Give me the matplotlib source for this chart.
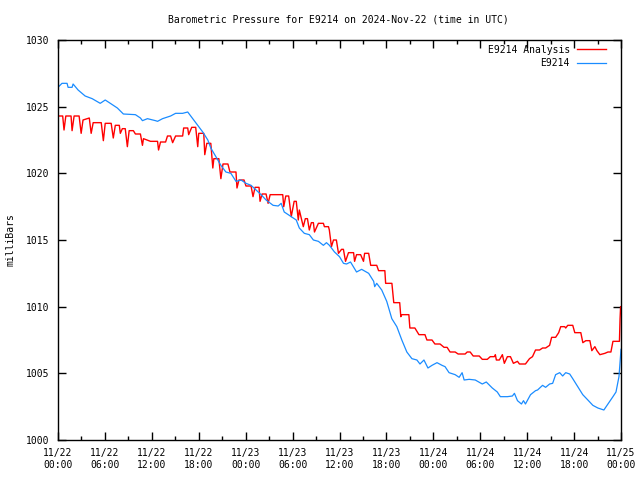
import matplotlib
matplotlib.use("Agg")
import matplotlib.pyplot as plt
from matplotlib.ticker import MultipleLocator

plt.rcParams['font.family'] = ['DejaVu Sans Mono']
plt.rcParams['font.size'] = 7

### Data (hours since 2024-11-22 00:00 UTC, millibars)
analysis_hours = [0.0, 0.6, 0.77, 1.0, 1.67, 1.8, 2.06, 2.7, 2.96, 3.2, 4.0, 4.24, 4.5, 5.53, 5.8,
                  6.04, 6.8, 7.07, 7.33, 7.84, 7.97, 8.23, 8.6, 8.87, 9.1, 9.64, 9.9, 10.54, 10.8,
                  10.93, 11.83, 12.73, 12.86, 13.11, 13.76, 14.0, 14.4, 14.66, 15.04, 15.94, 16.07,
                  16.59, 16.71, 17.1, 17.61, 17.87, 18.0, 18.64, 18.77, 19.03, 19.54, 19.8, 19.93,
                  20.57, 20.83, 21.1, 21.73, 21.99, 22.76, 22.89, 23.14, 23.79, 24.04, 24.69, 24.94,
                  25.2, 25.71, 25.84, 26.1, 26.61, 26.87, 27.13, 28.74, 28.87, 29.13, 29.5, 29.83,
                  30.2, 30.47, 30.73, 30.86, 31.37, 31.63, 31.9, 32.14, 32.4, 32.66, 32.8, 33.3,
                  33.94, 34.07, 34.59, 34.7, 34.97, 35.23, 35.6, 35.87, 36.26, 36.5, 36.77, 37.15,
                  37.8, 37.93, 38.18, 38.7, 39.07, 39.21, 39.73, 39.99, 40.76, 41.0, 41.8, 41.9,
                  42.7, 42.94, 43.7, 43.84, 43.97, 44.87, 45.0, 45.64, 46.16, 46.93, 47.18, 47.83,
                  48.2, 48.86, 49.37, 49.76, 50.14, 50.79, 51.17, 52.07, 52.33, 52.71, 53.1, 53.87,
                  54.26, 54.9, 55.28, 55.8, 55.93, 56.06, 56.44, 56.83, 57.08, 57.47, 57.86, 58.24,
                  58.76, 59.01, 59.78, 60.3, 60.68, 61.07, 61.59, 61.97, 62.36, 62.87, 63.13, 63.64,
                  64.03, 64.29, 64.8, 64.93, 65.19, 65.83, 66.09, 66.86, 67.12, 67.5, 68.02, 68.27,
                  68.66, 68.92, 69.3, 69.94, 70.33, 70.71, 70.97, 71.8, 71.88, 71.95]
analysis_mb = [1024.3, 1024.3, 1023.25, 1024.3, 1024.3, 1023.2, 1024.3, 1024.3, 1023.0, 1024.0,
               1024.15, 1023.0, 1023.8, 1023.8, 1022.45, 1023.75, 1023.75, 1022.65, 1023.6, 1023.6,
               1023.0, 1023.35, 1023.35, 1022.0, 1023.2, 1023.2, 1022.95, 1022.95, 1022.1, 1022.6,
               1022.4, 1022.4, 1021.75, 1022.35, 1022.35, 1022.8, 1022.8, 1022.3, 1022.8, 1022.8,
               1023.4, 1023.4, 1022.9, 1023.45, 1023.45, 1022.0, 1023.0, 1023.0, 1021.4, 1022.25,
               1022.25, 1020.4, 1021.1, 1021.1, 1019.6, 1020.7, 1020.7, 1020.1, 1020.1, 1018.9,
               1019.5, 1019.5, 1019.05, 1019.05, 1018.25, 1018.95, 1018.95, 1017.9, 1018.45, 1018.45,
               1017.75, 1018.4, 1018.4, 1017.5, 1018.3, 1018.3, 1016.75, 1017.9, 1017.9, 1016.5,
               1017.25, 1016.0, 1016.6, 1016.6, 1015.75, 1016.3, 1016.3, 1015.6, 1016.25, 1016.25,
               1016.0, 1016.0, 1015.75, 1014.5, 1015.0, 1015.0, 1014.0, 1014.3, 1014.3, 1013.4,
               1014.05, 1014.05, 1013.4, 1013.9, 1013.9, 1013.4, 1014.0, 1014.0, 1013.1, 1013.1,
               1012.7, 1012.7, 1011.75, 1011.75, 1010.3, 1010.3, 1009.25, 1009.4, 1009.4, 1008.4,
               1008.4, 1007.9, 1007.9, 1007.5, 1007.5, 1007.2, 1007.2, 1006.95, 1006.95, 1006.6,
               1006.6, 1006.45, 1006.45, 1006.6, 1006.6, 1006.3, 1006.3, 1006.05, 1006.05, 1006.25,
               1006.25, 1006.4, 1006.0, 1006.0, 1006.4, 1005.75, 1006.25, 1006.25, 1005.75, 1005.9,
               1005.7, 1005.7, 1006.1, 1006.25, 1006.75, 1006.75, 1006.9, 1006.9, 1007.1, 1007.7,
               1007.7, 1008.05, 1008.5, 1008.5, 1008.4, 1008.6, 1008.6, 1008.05, 1008.05, 1007.3,
               1007.45, 1007.45, 1006.7, 1007.0, 1006.7, 1006.4, 1006.5, 1006.6, 1006.6, 1007.4,
               1007.4, 1009.1, 1010.0]

station_hours = [0.0, 0.51, 1.16, 1.29, 1.8, 1.93, 2.57, 3.47, 4.37, 5.4, 6.04, 6.69, 7.59, 8.36,
                 9.9, 10.54, 10.8, 11.44, 12.47, 12.73, 13.37, 14.4, 15.04, 15.94, 16.59, 17.23,
                 17.87, 18.51, 19.16, 19.54, 20.19, 20.83, 21.47, 22.11, 22.76, 23.4, 24.04, 24.69,
                 25.33, 25.97, 26.61, 27.51, 28.16, 28.54, 28.93, 29.83, 30.47, 30.86, 31.5, 32.14,
                 32.66, 33.3, 33.94, 34.33, 34.71, 35.36, 36.0, 36.51, 36.9, 37.41, 38.18, 38.83,
                 39.73, 40.37, 40.5, 40.76, 41.4, 42.04, 42.69, 43.33, 43.97, 44.61, 45.26, 45.9,
                 46.29, 46.8, 47.31, 47.83, 48.47, 49.11, 49.5, 50.01, 50.79, 51.3, 51.68, 51.94,
                 52.58, 53.36, 54.26, 54.77, 55.54, 56.18, 56.57, 57.47, 58.11, 58.37, 58.76, 59.27,
                 59.53, 59.78, 60.43, 61.07, 61.33, 61.97, 62.36, 62.87, 63.26, 63.64, 64.16, 64.54,
                 64.93, 65.44, 65.83, 66.47, 67.11, 67.76, 68.4, 69.04, 69.81, 70.33, 70.97, 71.36,
                 71.74, 71.9, 72.0]
station_mb = [1026.45, 1026.75, 1026.75, 1026.45, 1026.45, 1026.7, 1026.25, 1025.8, 1025.6,
              1025.25, 1025.5, 1025.25, 1024.9, 1024.45, 1024.4, 1024.15, 1023.95, 1024.1, 1023.95,
              1023.9, 1024.1, 1024.3, 1024.5, 1024.5, 1024.6, 1024.1, 1023.6, 1023.1, 1022.5,
              1021.9, 1021.25, 1020.6, 1020.1, 1020.0, 1019.4, 1019.5, 1019.25, 1019.1, 1018.75,
              1018.4, 1018.0, 1017.6, 1017.55, 1017.75, 1017.1, 1016.75, 1016.5, 1015.9, 1015.5,
              1015.4, 1015.0, 1014.9, 1014.6, 1014.8, 1014.6, 1014.1, 1013.75, 1013.25, 1013.2,
              1013.35, 1012.6, 1012.8, 1012.5, 1011.9, 1011.5, 1011.75, 1011.25, 1010.4, 1009.1,
              1008.5, 1007.5, 1006.6, 1006.1, 1006.0, 1005.7, 1006.0, 1005.4, 1005.6, 1005.8,
              1005.6, 1005.5, 1005.05, 1004.9, 1004.7, 1005.05, 1004.5, 1004.55, 1004.5, 1004.2,
              1004.35, 1003.9, 1003.6, 1003.25, 1003.25, 1003.3, 1003.5, 1002.95, 1002.7, 1002.95,
              1002.7, 1003.4, 1003.7, 1003.75, 1004.1, 1003.95, 1004.2, 1004.25, 1004.9, 1005.05,
              1004.8, 1005.05, 1004.95, 1004.6, 1004.0, 1003.4, 1003.0, 1002.6, 1002.4, 1002.25,
              1002.7, 1003.25, 1003.6, 1004.75, 1006.0, 1006.8]

tick_hours = [0, 6, 12, 18, 24, 30, 36, 42, 48, 54, 60, 66, 72]
tick_labels = ['11/22\n00:00', '11/22\n06:00', '11/22\n12:00', '11/22\n18:00',
               '11/23\n00:00', '11/23\n06:00', '11/23\n12:00', '11/23\n18:00',
               '11/24\n00:00', '11/24\n06:00', '11/24\n12:00', '11/24\n18:00',
               '11/25\n00:00']

### Figure laid out like the gnuplot png
fig = plt.figure(figsize=(6.4, 4.8), dpi=100)
ax = fig.add_axes([58 / 640, 40 / 480, 563 / 640, 400 / 480])

ax.plot(analysis_hours, analysis_mb, color='#ff0000', lw=1.0, label='E9214 Analysis')
ax.plot(station_hours, station_mb, color='#1a8cff', lw=0.9, label='E9214')

ax.set_xlim(0, 72)
ax.set_ylim(1000, 1030)
ax.set_xticks(tick_hours)
ax.set_xticklabels(tick_labels)
ax.xaxis.set_minor_locator(MultipleLocator(3))
ax.yaxis.set_major_locator(MultipleLocator(5))
ax.tick_params(which='both', direction='in', top=True, right=True, labelsize=7, pad=6)
ax.tick_params(which='major', length=6, width=1)
ax.tick_params(which='minor', length=3, width=1)
for s in ax.spines.values():
    s.set_linewidth(1)

ax.set_ylabel('milliBars', fontsize=7, labelpad=8)
fig.text(338 / 640, 1 - 19 / 480, 'Barometric Pressure for E9214 on 2024-Nov-22 (time in UTC)',
         ha='center', va='center', fontsize=7)

ax.legend(loc='upper right', bbox_to_anchor=(0.985, 1.005), frameon=False, markerfirst=False,
          handlelength=3.0, fontsize=7, borderaxespad=0.3, labelspacing=0.35, handletextpad=0.7)

fig.savefig('out.png', dpi=100)
